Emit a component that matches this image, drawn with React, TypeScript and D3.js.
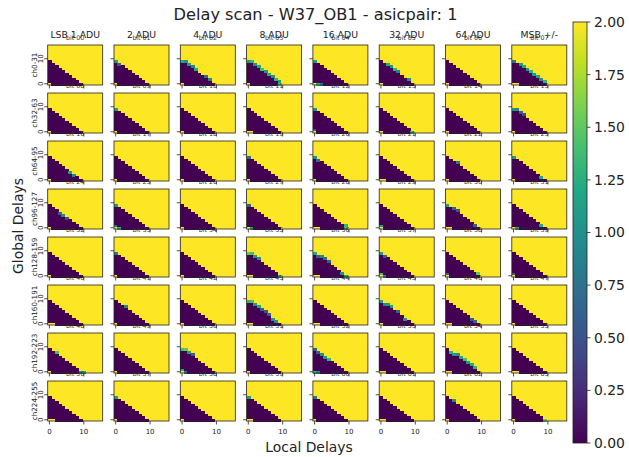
import React from 'react';
import * as d3 from 'd3';

// Column headers (bit weights) and row labels (channel groups)
const columnTitles = ['LSB 1 ADU', '2 ADU', '4 ADU', '8 ADU', '16 ADU', '32 ADU', '64 ADU', 'MSB +/-'];
const rowLabels = ['ch0-31', 'ch32-63', 'ch64-95', 'ch96-127', 'ch128-159', 'ch160-191', 'ch192-223', 'ch224-255'];

// 16 local delays (x) by 16 global delays (y)
const localDelays = d3.range(16);
const globalDelays = d3.range(16);

// first "yellow" global delay row for every local delay column
const edgeRows = [10, 9, 8, 7, 6, 5, 4, 3, 2, 1, 0, 0, 0, 0, 0, 0];

// per-panel cells that differ from the staircase: [local, global, value]
const panelCells: [number, number, number][][] = [
  // ch0-31
  [[0, 0, 2]],
  [[0, 0, 2], [0, 9, 1.1], [1, 8, 0.6]],
  [[0, 0, 2], [0, 9, 1.2], [1, 9, 1.0], [2, 8, 1.1], [3, 7, 0.9], [4, 6, 1.2], [7, 3, 0.7], [8, 2, 0.9]],
  [[0, 0, 2], [0, 9, 1.1], [1, 9, 1.3], [2, 8, 1.0], [3, 7, 1.2], [4, 6, 1.4], [5, 5, 1.1], [6, 4, 1.2], [7, 3, 1.0], [8, 2, 1.3], [9, 1, 1.1], [9, 0, 1.4]],
  [[0, 0, 2], [1, 0, 1.3], [0, 9, 1.1], [2, 0, 0.8]],
  [[0, 0, 2], [2, 8, 1.2], [3, 7, 1.0], [4, 6, 1.3], [5, 5, 0.9], [8, 2, 1.0]],
  [[0, 0, 2]],
  [[0, 0, 2], [1, 0, 2], [0, 9, 0.8], [2, 8, 1.1], [3, 7, 1.2], [4, 6, 1.0], [5, 5, 1.3], [6, 4, 1.1], [7, 3, 1.2], [8, 2, 1.0], [9, 1, 1.3]],
  // ch32-63
  [[0, 0, 2]],
  [[0, 0, 2], [0, 9, 1.1]],
  [[0, 0, 2]],
  [[0, 0, 2], [1, 0, 2]],
  [[0, 0, 2], [0, 9, 1.0], [0, 1, 0.7]],
  [[0, 0, 2], [9, 0, 1.4]],
  [[0, 0, 2]],
  [[0, 0, 2], [0, 9, 1.1], [1, 9, 0.9], [2, 8, 0.6], [3, 7, 0.5]],
  // ch64-95
  [[0, 0, 2], [6, 3, 1.1], [7, 2, 0.9]],
  [[0, 0, 2]],
  [[0, 0, 2]],
  [[0, 0, 2], [0, 9, 0.7]],
  [[0, 0, 2], [0, 9, 1.0], [1, 8, 0.7]],
  [[0, 0, 2], [1, 0, 2]],
  [[0, 0, 2], [3, 7, 0.8]],
  [[0, 0, 2], [0, 9, 1.1], [8, 1, 1.2]],
  // ch96-127
  [[0, 0, 2], [3, 6, 0.6], [4, 5, 0.9], [5, 4, 0.5]],
  [[0, 0, 2], [0, 9, 1.0], [0, 1, 0.8], [1, 0, 1.3]],
  [[0, 0, 2]],
  [[0, 0, 2], [1, 0, 1.2], [0, 9, 0.6]],
  [[0, 0, 2], [1, 0, 2], [9, 1, 1.3], [9, 0, 1.5]],
  [[0, 0, 2], [0, 1, 1.1]],
  [[0, 0, 2], [1, 0, 2], [0, 9, 1.1], [2, 8, 0.6], [3, 7, 0.5], [8, 1, 0.6]],
  [[0, 0, 2], [1, 0, 1.2], [8, 1, 1.2]],
  // ch128-159
  [[0, 0, 2]],
  [[0, 0, 2], [0, 9, 0.8]],
  [[0, 0, 2]],
  [[0, 0, 2], [1, 0, 2], [0, 9, 1.5], [1, 9, 1.4], [2, 8, 1.1], [3, 7, 1.0], [9, 0, 1.1]],
  [[0, 0, 2], [1, 0, 2], [0, 9, 1.2], [1, 8, 0.6], [2, 8, 0.9], [3, 7, 0.7], [4, 6, 0.6], [8, 1, 1.0], [9, 0, 1.2]],
  [[0, 0, 2], [0, 9, 1.1], [1, 8, 0.6], [0, 1, 1.4], [1, 0, 1.0]],
  [[0, 0, 2], [0, 1, 0.6], [9, 1, 1.5]],
  [[0, 0, 2], [0, 1, 0.6]],
  // ch160-191
  [[0, 0, 2], [1, 0, 2]],
  [[0, 0, 2], [3, 7, 0.9]],
  [[0, 0, 2]],
  [[0, 0, 2], [1, 0, 2], [0, 9, 1.3], [1, 9, 1.4], [2, 8, 1.1], [3, 7, 1.2], [4, 6, 0.6], [5, 5, 0.5], [6, 4, 0.6], [7, 2, 1.1], [8, 1, 1.0]],
  [[0, 0, 2], [1, 0, 2]],
  [[0, 0, 2], [0, 9, 1.1], [1, 8, 0.9], [2, 8, 1.0], [3, 7, 1.1], [5, 5, 0.6], [7, 2, 1.0]],
  [[0, 0, 2], [1, 0, 2], [7, 2, 0.6], [8, 1, 0.6]],
  [[0, 0, 2]],
  // ch192-223
  [[0, 0, 2], [2, 8, 1.4], [9, 0, 1.1], [10, 0, 1.2]],
  [[0, 0, 2]],
  [[0, 0, 2], [0, 9, 1.4], [1, 9, 1.5], [2, 8, 1.1], [3, 7, 0.6], [0, 1, 1.2], [1, 0, 0.8]],
  [[0, 0, 2]],
  [[0, 0, 1.4], [1, 0, 1.0], [0, 9, 0.6], [1, 8, 0.6], [2, 7, 1.0], [3, 6, 1.1], [4, 5, 1.3]],
  [[0, 0, 2], [1, 0, 2]],
  [[0, 0, 2], [1, 0, 2], [1, 8, 1.3], [2, 7, 1.1], [3, 7, 1.0], [4, 6, 1.2], [5, 5, 1.4], [6, 4, 1.1], [7, 3, 1.2], [8, 2, 1.3]],
  [[0, 0, 2], [1, 0, 2]],
  // ch224-255
  [[0, 0, 2], [1, 0, 2]],
  [[0, 0, 2], [0, 9, 1.1]],
  [[0, 0, 2]],
  [[0, 0, 2], [1, 0, 2], [0, 9, 1.1]],
  [[0, 0, 2], [0, 9, 0.8]],
  [[0, 0, 2], [1, 0, 2]],
  [[0, 0, 2], [2, 8, 1.0]],
  [[0, 0, 2], [9, 0, 1.5]],
];

const axisTicks = [0, 10];
const colorTicks = [0, 0.25, 0.5, 0.75, 1, 1.25, 1.5, 1.75, 2];

const W = 629;
const H = 457;
const FONT = 'DejaVu Sans, sans-serif';

// panel grid geometry
const left0 = 47.7;
const stepX = 66.3;
const panelW = 55;
const top0 = 45;
const stepY = 48;
const panelH = 40;

const color = (v: number) => d3.interpolateViridis(v / 2);

const Panel: React.FC<{ row: number; col: number }> = ({ row, col }) => {
  const idx = row * 8 + col;
  const x0 = left0 + col * stepX;
  const y0 = top0 + row * stepY;

  const xBand = d3.scaleBand<number>().domain(localDelays).range([0, panelW]);
  const yBand = d3.scaleBand<number>().domain(globalDelays).range([panelH, 0]);
  const xLin = d3.scaleLinear().domain([-0.5, 15.5]).range([0, panelW]);
  const yLin = d3.scaleLinear().domain([-0.5, 15.5]).range([panelH, 0]);

  const grid = localDelays.map(x => globalDelays.map(y => (y < edgeRows[x] ? 0 : 2)));
  panelCells[idx].forEach(([x, y, v]) => {
    grid[x][y] = v;
  });

  const bw = xBand.bandwidth();
  const bh = yBand.bandwidth();

  return (
    <g transform={`translate(${x0},${y0})`}>
      <rect width={panelW} height={panelH} fill={color(2)} />
      <g shapeRendering="crispEdges">
        {localDelays.map(x =>
          globalDelays.map(y =>
            grid[x][y] === 2 ? null : (
              <rect
                key={`${x}-${y}`}
                x={xBand(x)}
                y={yBand(y)}
                width={bw + 0.5}
                height={bh + 0.5}
                fill={color(grid[x][y])}
              />
            )
          )
        )}
      </g>
      <rect width={panelW} height={panelH} fill="none" stroke="#222" strokeWidth={0.8} />
      {axisTicks.map(t => (
        <line key={`xt${t}`} x1={xLin(t)} x2={xLin(t)} y1={panelH} y2={panelH + 3.5} stroke="#222" strokeWidth={0.8} />
      ))}
      {axisTicks.map(t => (
        <line key={`yt${t}`} x1={-3.5} x2={0} y1={yLin(t)} y2={yLin(t)} stroke="#222" strokeWidth={0.8} />
      ))}
      {row === 7 &&
        axisTicks.map(t => (
          <text key={`xl${t}`} x={xLin(t)} y={panelH + 13} fontSize={7} textAnchor="middle" fill="#222">
            {t}
          </text>
        ))}
      {col === 0 &&
        axisTicks.map(t => (
          <text
            key={`yl${t}`}
            transform={`translate(-4.5,${yLin(t)}) rotate(-90)`}
            fontSize={7}
            textAnchor="middle"
            fill="#222"
          >
            {t}
          </text>
        ))}
      {col === 0 && (
        <text transform={`translate(-10.5,${panelH / 2}) rotate(-90)`} fontSize={7.2} textAnchor="middle" fill="#222">
          {rowLabels[row]}
        </text>
      )}
      {row === 0 && (
        <text x={panelW / 2} y={-7} fontSize={9.3} textAnchor="middle" fill="#222">
          {columnTitles[col]}
        </text>
      )}
      <text x={panelW / 2} y={-5.5} fontSize={6.3} textAnchor="middle" fill="#333">
        {`bit ${String(idx).padStart(2, '0')}`}
      </text>
    </g>
  );
};

const App: React.FC = () => {
  const cbX = 573;
  const cbW = 14;
  const cbScale = d3.scaleLinear().domain([0, 2]).range([443, 22]);
  const gradStops = d3.range(0, 1.0001, 0.1);

  return (
    <svg
      width={W}
      height={H}
      viewBox={`0 0 ${W} ${H}`}
      style={{ position: 'absolute', left: 0, top: 0, background: '#fff' }}
      fontFamily={FONT}
    >
      <defs>
        <linearGradient id="viridis" x1="0" y1="1" x2="0" y2="0">
          {gradStops.map(t => (
            <stop key={t} offset={t} stopColor={d3.interpolateViridis(t)} />
          ))}
        </linearGradient>
      </defs>

      <text x={315.5} y={19.5} fontSize={16.2} textAnchor="middle" fill="#222">
        Delay scan - W37_OB1 - asicpair: 1
      </text>

      {rowLabels.map((_, r) => columnTitles.map((__, c) => <Panel key={`${r}-${c}`} row={r} col={c} />))}

      <text x={309} y={452} fontSize={13.9} textAnchor="middle" fill="#222">
        Local Delays
      </text>
      <text transform="translate(23,226) rotate(-90)" fontSize={13.9} textAnchor="middle" fill="#222">
        Global Delays
      </text>

      {/* colorbar */}
      <rect x={cbX} y={cbScale(2)} width={cbW} height={cbScale(0) - cbScale(2)} fill="url(#viridis)" />
      <rect x={cbX} y={cbScale(2)} width={cbW} height={cbScale(0) - cbScale(2)} fill="none" stroke="#222" strokeWidth={0.8} />
      {colorTicks.map(t => (
        <g key={t} transform={`translate(${cbX + cbW},${cbScale(t)})`}>
          <line x1={0} x2={3.5} stroke="#222" strokeWidth={0.8} />
          <text x={7} dy="0.35em" fontSize={13.9} fill="#222">
            {t.toFixed(2)}
          </text>
        </g>
      ))}
    </svg>
  );
};

export default App;
